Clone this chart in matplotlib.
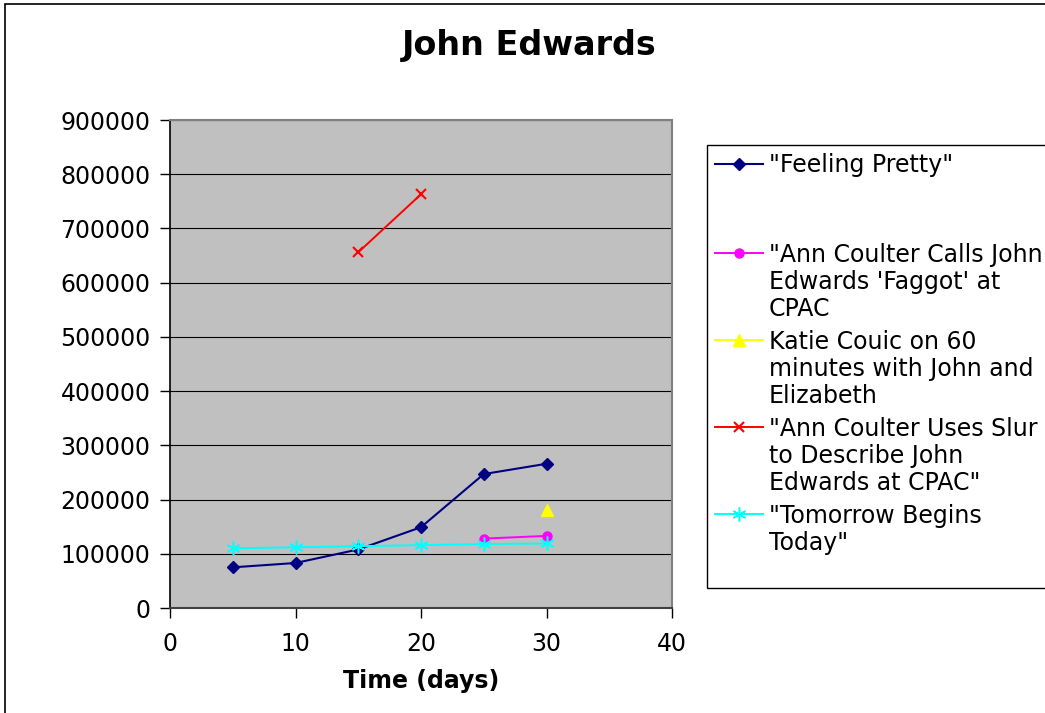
import matplotlib
matplotlib.use("Agg")
import numpy as np
import matplotlib.pyplot as plt
from matplotlib.lines import Line2D
from matplotlib.patches import Rectangle
from matplotlib.ticker import FuncFormatter
from matplotlib.legend_handler import HandlerLine2D

days = [5, 10, 15, 20, 25, 30]
feeling_pretty = [75000, 83000, 108000, 149000, 247000, 266000]
tomorrow_begins = [110000, 112000, 114000, 116000, 118000, 119000]
coulter_calls_days = [25, 30]
coulter_calls = [128000, 133000]
katie_days = [30]
katie_couric = [181000]
coulter_slur_days = [15, 20]
coulter_slur = [656000, 763000]

labels = [
    '"Feeling Pretty"',
    '\n',
    '"Ann Coulter Calls John\nEdwards \'Faggot\' at\nCPAC',
    'Katie Couic on 60\nminutes with John and\nElizabeth',
    '"Ann Coulter Uses Slur\nto Describe John\nEdwards at CPAC"',
    '"Tomorrow Begins\nToday"',
    ' ',
]

FS = 17
LINE_PT = 19.4  # height of one legend text line, in points


class FirstLineHandler(HandlerLine2D):
    # keeps the legend key level with the first line of a wrapped label
    def __init__(self, nlines=1, **kw):
        super().__init__(**kw)
        self.lift = (nlines - 1) / 2 * LINE_PT + (2.2 if nlines > 1 else 0)

    def create_artists(self, legend, orig_handle, xdescent, ydescent, width, height, fontsize, trans):
        arts = super().create_artists(legend, orig_handle, xdescent, ydescent, width, height, fontsize, trans)
        for a in arts:
            a.set_ydata(np.asarray(a.get_ydata()) + self.lift)
        return arts


plt.rcParams["font.family"] = "DejaVu Sans"
fig = plt.figure(figsize=(10.45, 7.13), dpi=100)
fig.patch.set_facecolor("white")
fig.patches.append(Rectangle((5 / 1045, -0.1), 1.2, 1 - 4 / 713 + 0.1,
                             transform=fig.transFigure, fill=False,
                             edgecolor="black", linewidth=1.2, zorder=0))

ax = fig.add_axes([170 / 1045, 1 - 608 / 713, 502 / 1045, 488 / 713])
ax.set_facecolor("#c0c0c0")

h1, = ax.plot(days, feeling_pretty, color="#000080", marker="D", markersize=6.5, linewidth=1.5, zorder=3)
h2, = ax.plot(coulter_calls_days, coulter_calls, color="#ff00ff", marker="o", markersize=6.5, linewidth=1.4, zorder=3)
h3, = ax.plot(katie_days, katie_couric, color="#ffff00", marker="^", markersize=8.5, linewidth=1.4, zorder=3)
h4, = ax.plot(coulter_slur_days, coulter_slur, color="#ff0000", marker="x", markersize=7.5,
              markeredgewidth=1.5, linewidth=1.4, zorder=3)
h5, = ax.plot(days, tomorrow_begins, color="#00ffff", marker=(6, 2, 0), markersize=10,
              markeredgewidth=1.1, linewidth=1.4, zorder=4)
blank = Line2D([], [], color="none")
blank_end = Line2D([], [], color="none")

ax.set_xlim(0, 40)
ax.set_ylim(0, 900000)
ax.set_xticks(range(0, 41, 10))
ax.set_yticks(range(0, 900001, 100000))
ax.yaxis.set_major_formatter(FuncFormatter(lambda v, p: "%d" % v))
ax.grid(axis="y", color="black", linewidth=0.8)
ax.set_axisbelow(True)
ax.tick_params(direction="out", length=7, width=1, labelsize=FS, colors="black")
ax.tick_params(axis="y", pad=7)
ax.tick_params(axis="x", pad=10.5)

for side in ("top", "right"):
    ax.spines[side].set_color("#808080")
    ax.spines[side].set_linewidth(1.5)
ax.spines["left"].set_color("black")
ax.spines["left"].set_linewidth(1.2)
ax.spines["bottom"].set_color("#404040")
ax.spines["bottom"].set_linewidth(1.5)

ax.set_xlabel("Time (days)", fontsize=FS, fontweight="bold", labelpad=9)
fig.text(529 / 1045, 1 - 45 / 713, "John Edwards", fontsize=24, fontweight="bold",
         ha="center", va="center")

handles = [h1, blank, h2, h3, h4, h5, blank_end]
handler_map = {h: FirstLineHandler(nlines=lab.count("\n") + 1) for h, lab in zip(handles, labels)}
leg = fig.legend(handles, labels, loc="upper left", handler_map=handler_map,
                 bbox_to_anchor=(707 / 1045, 1 - 145 / 713), borderaxespad=0,
                 fontsize=FS, frameon=True, fancybox=False, shadow=False,
                 handlelength=2.05, handletextpad=0.24, borderpad=0.33,
                 labelspacing=0.36, edgecolor="black", framealpha=1)
leg.get_frame().set_linewidth(1.0)
for t in leg.get_texts():
    t.set_linespacing(1.17)
leg.get_texts()[1].set_fontsize(16.35)
leg.get_texts()[-1].set_fontsize(1)

fig.savefig("out.png", dpi=100, facecolor="white")
